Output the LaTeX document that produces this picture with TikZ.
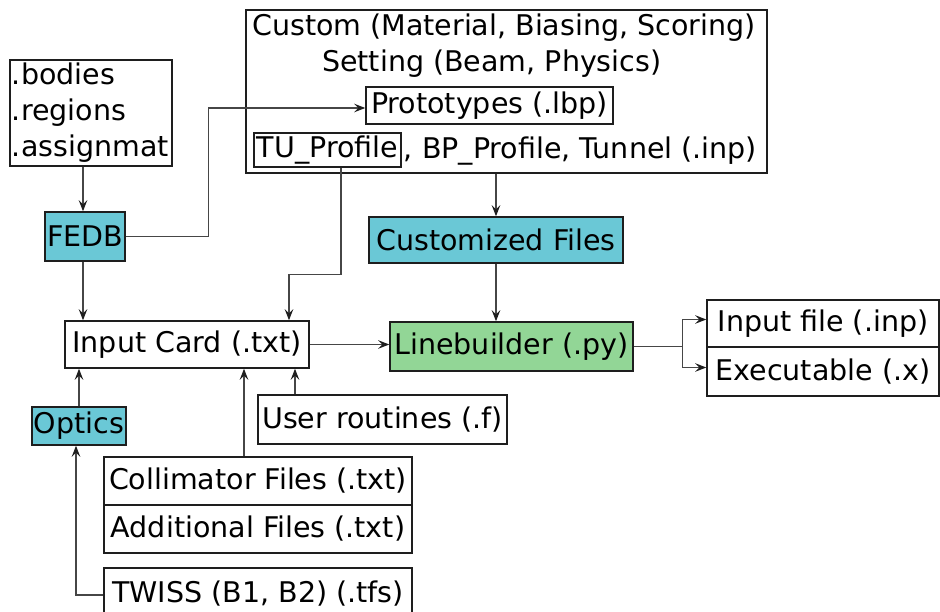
\documentclass[tikz,border=0pt]{standalone}
\usepackage{fontspec}
\setmainfont{DejaVu Sans}
\usetikzlibrary{arrows.meta}
\definecolor{cyanbox}{RGB}{106,200,214}
\definecolor{greenbox}{RGB}{146,214,150}
\definecolor{wire}{RGB}{70,70,70}
\definecolor{edge}{RGB}{30,30,30}
\tikzset{
  txt/.style={font=\fontsize{28.5pt}{36pt}\selectfont, inner sep=0pt},
  bx/.style={txt, draw=edge, line width=1.5pt, inner xsep=2pt, inner ysep=0pt},
  arr/.style={draw=wire, line width=1.2pt, -{Stealth[length=11pt,width=8.5pt,inset=4pt,color=edge]}},
  ln/.style={draw=wire, line width=1.2pt},
}
\begin{document}
\begin{tikzpicture}[x=1pt,y=-1pt]
\useasboundingbox (0,0) rectangle (940,612);
% top box
\node[bx, minimum width=521pt, minimum height=163pt] (top) at (506.5,91.5) {};
\node[txt, anchor=base west] (custom) at (252,36) {Custom (Material, Biasing, Scoring)};
\node[txt, anchor=base west] (setting) at (322,72) {Setting (Beam, Physics)};
\node[bx, minimum width=247pt, minimum height=37pt] (proto) at (489.5,105.5) {Prototypes (.lbp)};
\node[bx, minimum width=147pt, minimum height=34pt] (tu) at (327.5,150) {TU\_Profile};
\node[txt, anchor=base west] (rest) at ([xshift=2pt,yshift=-1.5pt]tu.base east) {, BP\_Profile, Tunnel (.inp)};
% left column
\node[bx, minimum height=106pt, text width=158pt, align=left] (bodies) at (91,113) {.bodies\\.regions\\.assignmat};
\node[bx, fill=cyanbox, minimum width=78pt, minimum height=49pt] (fedb) at (85,236.5) {FEDB};
\node[bx, fill=cyanbox, minimum width=254pt, minimum height=46pt] (cust) at (496,240) {Customized Files};
\node[bx, minimum width=244pt, minimum height=47pt] (input) at (187,344.5) {Input Card (.txt)};
\node[bx, fill=greenbox, minimum width=243pt, minimum height=49pt] (lb) at (511.5,346.5) {Linebuilder (.py)};
\node[bx, minimum width=232pt, minimum height=47pt] (out1) at (823,323.5) {Input file (.inp)};
\node[bx, minimum width=232pt, minimum height=49pt] (out2) at (823,371.5) {Executable (.x)};
\node[bx, fill=cyanbox, minimum width=94pt, minimum height=38pt] (optics) at (79,426) {Optics};
\node[bx, minimum width=249pt, minimum height=49pt] (user) at (382.5,419.5) {User routines (.f)};
\node[bx, minimum width=308pt, minimum height=48pt] (coll) at (258,481) {Collimator Files (.txt)};
\node[bx, minimum width=308pt, minimum height=48pt] (addl) at (258,529) {Additional Files (.txt)};
\node[bx, minimum width=308pt, minimum height=52pt] (twiss) at (258,594) {TWISS (B1, B2) (.tfs)};
% connectors
\draw[arr] ([xshift=-2pt]fedb.north |- bodies.south) -- ([xshift=-2pt]fedb.north);
\draw[arr] (fedb.east) -- ++(83,0) |- ([yshift=-2.5pt]proto.west);
\draw[arr] (cust.north |- top.south) -- (cust.north);
\draw[arr] ([xshift=13.5pt]tu.south) -- ++(0,107) -| ([xshift=102pt]input.north);
\draw[arr] ([xshift=-2pt]fedb.south) -- ([xshift=-2pt]fedb.south |- input.north);
\draw[arr] (input.east) -- (input.east -| lb.west);
\draw[arr] (cust.south) -- (cust.south |- lb.north);
\draw[ln] (lb.east) -- ++(49,0) coordinate (split);
\draw[arr] (split) |- ([yshift=4pt]out1.west);
\draw[arr] (split) |- ([yshift=4pt]out2.west);
\draw[arr] (optics.north) -- (optics.north |- input.south);
\draw[arr] ([xshift=-87.5pt]user.north) -- ([xshift=-87.5pt]user.north |- input.south);
\draw[arr] ([xshift=-14pt]coll.north) -- ([xshift=-14pt]coll.north |- input.south);
\draw[arr] ([yshift=-1pt]twiss.west) -| ([xshift=-3pt]optics.south);
\end{tikzpicture}
\end{document}
